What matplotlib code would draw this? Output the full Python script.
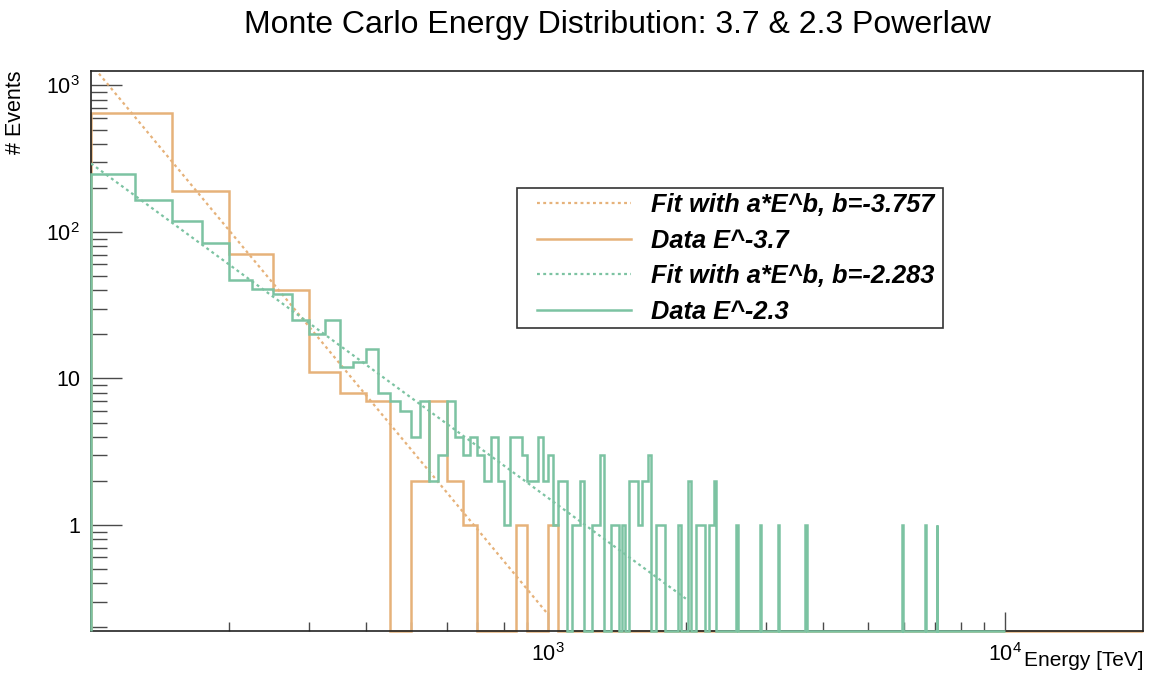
import numpy as np
import matplotlib
matplotlib.use("Agg")
import matplotlib.pyplot as plt
from matplotlib.lines import Line2D
from matplotlib.patches import Rectangle
from matplotlib.ticker import FixedLocator, NullFormatter

plt.rcParams['font.family'] = ['Liberation Sans', 'DejaVu Sans']
plt.rcParams['mathtext.fontset'] = 'custom'
plt.rcParams['mathtext.rm'] = 'Liberation Sans'
plt.rcParams['mathtext.it'] = 'Liberation Sans:italic'
plt.rcParams['mathtext.bf'] = 'Liberation Sans:bold'

# ---------------- data ----------------
title = "Monte Carlo Energy Distribution: 3.7 & 2.3 Powerlaw"
x_label = "Energy [TeV]"
y_label = "# Events"

e_min = 100.0

# E^-3.7 sample: 50 TeV bins from 100 TeV, remaining bins up to 20000 TeV are empty
orange_bin_width = 50.0
orange_e_max = 20000.0
orange_counts_head = [650, 190, 71, 40, 11, 8, 7, 0, 2, 7, 2, 1, 0, 0, 0, 1, 0, 0, 1]

# E^-2.3 sample: 25 TeV bins from 100 TeV up to 10000 TeV
green_bin_width = 25.0
green_e_max = 10000.0
green_counts_head = [250, 165, 119, 84, 47, 41, 38, 25, 20, 25, 12, 13, 16, 8, 7, 6,
                     4, 7, 2, 3, 7, 4, 3, 4, 3, 2, 4, 2, 1, 4, 4, 3, 2, 2, 4, 2]
green_tail_bin_lo = [1000, 1025, 1050, 1075, 1125, 1150, 1175, 1250, 1275, 1300,
                     1375, 1400, 1450, 1500, 1525, 1550, 1575, 1600, 1625, 1650,
                     1725, 1750, 1775, 1925, 2025, 2100, 2125, 2150, 2175, 2250,
                     2275, 2300, 2575, 2900, 3175, 3650, 5950, 6675, 7075]
green_tail_counts = [3, 1, 2, 2, 1, 1, 2, 1, 1, 3,
                     1, 1, 1, 2, 2, 2, 1, 2, 2, 3,
                     1, 1, 1, 1, 2, 1, 1, 1, 1, 1,
                     1, 2, 1, 1, 1, 1, 1, 1, 1]

# power-law fits a*E^b
fit_orange_a = 4.57e10
fit_orange_b = -3.757
fit_orange_range = (100.0, 1000.0)
fit_green_a = 1.08e7
fit_green_b = -2.283
fit_green_range = (100.0, 2000.0)

x_tick_values = [1e3, 1e4]
x_tick_labels = [r"$\mathdefault{10^{3}}$", r"$\mathdefault{10^{4}}$"]
y_tick_values = [1, 10, 100, 1000]
y_tick_labels = ["1", "10", r"$\mathdefault{10^{2}}$", r"$\mathdefault{10^{3}}$"]

x_range = (100.0, 20000.0)
y_range = (0.189, 1255.0)

# ---------------- styling ----------------
c_orange = '#E6B27A'
c_green = '#7CC3A2'
hist_lw = 1.8
fit_lw = 1.6
fit_dash = (0, (1.3, 1.5))

# ---------------- build histograms ----------------
orange_edges = np.arange(e_min, orange_e_max + orange_bin_width / 2, orange_bin_width)
orange_counts = np.zeros(len(orange_edges) - 1)
orange_counts[:len(orange_counts_head)] = orange_counts_head

green_edges = np.arange(e_min, green_e_max + green_bin_width / 2, green_bin_width)
green_counts = np.zeros(len(green_edges) - 1)
green_counts[:len(green_counts_head)] = green_counts_head
for lo, n in zip(green_tail_bin_lo, green_tail_counts):
    green_counts[int(round((lo - e_min) / green_bin_width))] = n

W, H = 1155, 684
fig = plt.figure(figsize=(W / 100, H / 100), dpi=100)
ax = fig.add_axes([91 / W, 1 - 631 / H, (1143 - 91) / W, (631 - 71) / H])
ax.set_xscale('log')
ax.set_yscale('log')
ax.set_xlim(*x_range)
ax.set_ylim(*y_range)

# empty bins sit on the lower frame edge, as on a log axis there is no zero
floor = y_range[0]
ax.stairs(np.maximum(orange_counts, floor), orange_edges, baseline=floor,
          color=c_orange, lw=hist_lw, zorder=2.2, clip_on=False)
E = np.geomspace(*fit_orange_range, 400)
ax.plot(E, fit_orange_a * E ** fit_orange_b, color=c_orange, lw=fit_lw,
        linestyle=fit_dash, zorder=2.3)

ax.stairs(np.maximum(green_counts, floor), green_edges, baseline=floor,
          color=c_green, lw=hist_lw, zorder=3.0, clip_on=False)
E = np.geomspace(*fit_green_range, 400)
ax.plot(E, fit_green_a * E ** fit_green_b, color=c_green, lw=fit_lw,
        linestyle=fit_dash, zorder=3.1)

# axes frame and ticks
for s in ax.spines.values():
    s.set_color('#222222')
    s.set_linewidth(1.2)

ax.xaxis.set_major_locator(FixedLocator(x_tick_values))
ax.xaxis.set_ticklabels(x_tick_labels)
ax.xaxis.set_minor_locator(FixedLocator(
    [m * 10 ** k for k in (2, 3) for m in range(2, 10)]))
ax.xaxis.set_minor_formatter(NullFormatter())
ax.yaxis.set_major_locator(FixedLocator(y_tick_values))
ax.yaxis.set_ticklabels(y_tick_labels)
ax.yaxis.set_minor_locator(FixedLocator(
    [m * 10.0 ** k for k in (-1, 0, 1, 2) for m in range(2, 10)]))
ax.yaxis.set_minor_formatter(NullFormatter())

ax.tick_params(which='both', direction='in', top=False, right=False,
               color='#4a4a4a', width=1.0, labelsize=15.5)
ax.tick_params(axis='x', which='major', length=13.5, pad=8.5)
ax.tick_params(axis='x', which='minor', length=6.5)
ax.tick_params(axis='y', which='major', length=22.3, pad=8)
ax.tick_params(axis='y', which='minor', length=11.5)

ax.set_title(title, fontsize=23, pad=27)
ax.set_xlabel(x_label, fontsize=15, loc='right')
ax.xaxis.set_label_coords(1.0, -0.036)
ax.set_ylabel(y_label, fontsize=15.5, loc='top')
ax.yaxis.set_label_coords(-(91 - 26) / 1052, 1.0)

# legend
fig.add_artist(Rectangle((517 / W, 1 - 328 / H), (943 - 517) / W, (328 - 188) / H,
                         transform=fig.transFigure, facecolor='white',
                         edgecolor='#333333', lw=1.2, zorder=4))
handles = [
    Line2D([], [], color=c_orange, lw=fit_lw, linestyle=fit_dash),
    Line2D([], [], color=c_orange, lw=hist_lw),
    Line2D([], [], color=c_green, lw=fit_lw, linestyle=fit_dash),
    Line2D([], [], color=c_green, lw=hist_lw),
]
labels = [
    f"Fit with a*E^b, b={fit_orange_b:.3f}",
    "Data E^-3.7",
    f"Fit with a*E^b, b={fit_green_b:.3f}",
    "Data E^-2.3",
]
leg = fig.legend(handles, labels, loc='upper left',
                 bbox_to_anchor=(537 / W, 1 - 193 / H),
                 bbox_transform=fig.transFigure, frameon=False,
                 borderpad=0, borderaxespad=0, handlelength=3.68,
                 handletextpad=0.8, labelspacing=0.46,
                 prop=dict(family='Liberation Sans', weight='bold',
                           style='italic', size=18.3))
leg.set_zorder(5)

fig.savefig('out.png', dpi=100)
